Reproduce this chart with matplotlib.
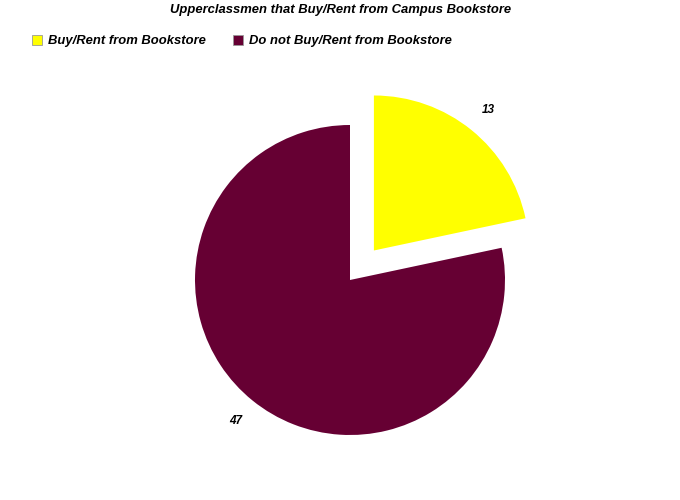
import matplotlib
matplotlib.use("Agg")
import matplotlib.pyplot as plt
from matplotlib.patches import Patch

labels = ["Buy/Rent from Bookstore", "Do not Buy/Rent from Bookstore"]
values = [13, 47]
colors = ["#FFFF00", "#660033"]
title = "Upperclassmen that Buy/Rent from Campus Bookstore"

plt.rcParams['font.family'] = ['Liberation Sans', 'DejaVu Sans']

fig = plt.figure(figsize=(6.8, 5.0), dpi=100)
L = 1.3
w = 2 * L * 155 / 680
h = 2 * L * 155 / 500
ax = fig.add_axes([350 / 680 - w / 2, 1 - 280 / 500 - h / 2, w, h])
wedges, texts = ax.pie(values, colors=colors, startangle=90, counterclock=False,
                       explode=[0.245, 0], labels=[str(v) for v in values],
                       labeldistance=1.17,
                       textprops=dict(fontsize=8.5, fontweight='bold', fontstyle='italic'),
                       wedgeprops=dict(linewidth=0))
for t in texts:
    t.set_ha('center'); t.set_va('center')
ax.set_xlim(-L, L)
ax.set_ylim(-L, L)
ax.set_aspect('equal')
ax.axis('off')

fig.text(341 / 680, 1 - 10 / 500, title, ha='center', va='center',
         fontsize=9.4, fontweight='bold', fontstyle='italic')

handles = [Patch(facecolor=c, edgecolor='#999999', linewidth=0.6) for c in colors]
leg = fig.legend(handles, labels, loc='center left', bbox_to_anchor=(20 / 680, 1 - 41 / 500),
                 ncol=2, frameon=False, handlelength=0.77, handleheight=0.77,
                 handletextpad=0.46, columnspacing=2.07,
                 prop=dict(size=9.4, weight='bold', style='italic'))

fig.savefig("out.png", dpi=100)
